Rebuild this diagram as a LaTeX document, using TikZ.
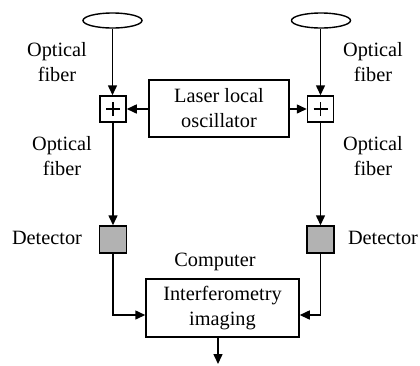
\documentclass[tikz,border=0pt]{standalone}
\usepackage{fontspec}
\setmainfont{Liberation Serif}
\usetikzlibrary{arrows.meta,shapes.geometric}
\begin{document}
\begin{tikzpicture}[x=1pt,y=-1pt,
  lbl/.style={font=\fontsize{20.3}{25}\selectfont, align=center, inner sep=0pt},
  box/.style={draw, line width=1.5pt, minimum width=#1, inner sep=0pt},
  arr/.style={line width=1.5pt, -{Triangle[length=10pt,width=9pt]}},
  plus/.style={line width=1.6pt}
]
\useasboundingbox (0,0) rectangle (420,365);
% ellipses
\node[draw, line width=1.4pt, ellipse, minimum width=59pt, minimum height=15pt, inner sep=0pt] (e1) at (112.5,20.5) {};
\node[draw, line width=1.4pt, ellipse, minimum width=59pt, minimum height=15pt, inner sep=0pt] (e2) at (321,20.5) {};
% plus boxes
\node[box=26pt, minimum height=26pt] (p1) at (113,109) {};
\node[box=26pt, minimum height=26pt] (p2) at (320.5,109) {};
\draw[plus] ([xshift=-7pt]p1.center) -- ([xshift=7pt]p1.center) ([yshift=-7pt]p1.center) -- ([yshift=7pt]p1.center);
\draw[plus] ([xshift=-7pt]p2.center) -- ([xshift=7pt]p2.center) ([yshift=-7pt]p2.center) -- ([yshift=7pt]p2.center);
% laser
\node[box=140pt, minimum height=57pt, lbl] (las) at (219,108.5) {Laser local\\oscillator};
% detectors
\node[box=27pt, minimum height=27pt, fill=black!30] (d1) at (113,239.5) {};
\node[box=27pt, minimum height=27pt, fill=black!30] (d2) at (320.5,239.5) {};
% computer
\node[box=153pt, minimum height=58pt, lbl] (comp) at (222.5,308) {Interferometry\\imaging};
\coordinate (out) at (218,364);
% labels
\node[lbl] (l1) at (57,62) {Optical\\fiber};
\node[lbl] (l2) at (62,156) {Optical\\fiber};
\node[lbl] (l3) at (373,62) {Optical\\fiber};
\node[lbl] (l4) at (373,156) {Optical\\fiber};
\node[lbl] (l5) at (47,238) {Detector};
\node[lbl] (l6) at (383,238) {Detector};
\node[lbl] (l7) at (215,262) {Computer};
% connectors
\draw[arr] (e1.south) -- (e1.south |- p1.north);
\draw[arr] (p2.north |- e2.south) -- (p2.north);
\draw[arr] (las.west |- p1.east) -- (p1.east);
\draw[arr] (las.east |- p2.west) -- (p2.west);
\draw[arr] (p1.south) -- (d1.north);
\draw[arr] (p2.south) -- (d2.north);
\draw[arr] (d1.south) |- (comp.west |- 0,315);
\draw[arr] (d2.south) |- (comp.east |- 0,315);
\draw[arr] (comp.south -| out) -- (out);
\end{tikzpicture}
\end{document}
